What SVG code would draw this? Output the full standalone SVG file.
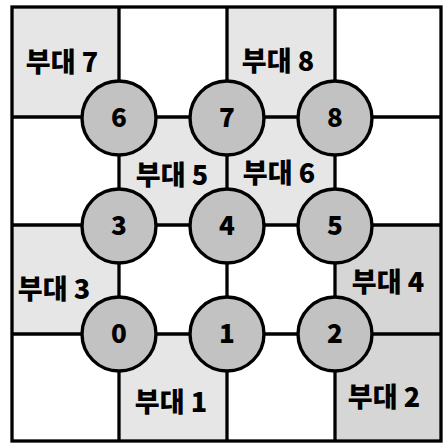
<svg xmlns="http://www.w3.org/2000/svg" width="443" height="443" viewBox="0 0 443 443">
<style>
.cell{fill:#e6e6e6;stroke:none}
.cell.dark{fill:#d6d6d6}
.ln{stroke:#000;stroke-width:3.3;fill:none}
.node circle{fill:#c2c2c2;stroke:#000;stroke-width:3.4}
.node text{font-family:"Noto Sans CJK KR","Noto Sans",sans-serif;font-weight:900;font-size:26px;text-anchor:middle;fill:#000}
.lbl{font-family:"Noto Sans CJK KR","Noto Sans",sans-serif;font-weight:900;font-size:27px;text-anchor:middle;fill:#000}
</style>
<rect x="0" y="0" width="443" height="443" fill="#fff"/>
<g id="cells">
<rect class="cell" x="12" y="7" width="107" height="110"/>
<rect class="cell" x="227" y="7" width="108" height="110"/>
<rect class="cell" x="119" y="117" width="108" height="108"/>
<rect class="cell" x="227" y="117" width="108" height="108"/>
<rect class="cell" x="12" y="225" width="107" height="109"/>
<rect class="cell dark" x="335" y="225" width="106" height="109"/>
<rect class="cell" x="119" y="334" width="108" height="107"/>
<rect class="cell dark" x="335" y="334" width="106" height="107"/>
</g>
<g id="connectors">
<rect class="ln" x="12" y="7" width="429" height="434" stroke-width="3.6"/>
<line class="ln" x1="12" y1="117" x2="441" y2="117"/>
<line class="ln" x1="12" y1="225" x2="441" y2="225"/>
<line class="ln" x1="12" y1="334" x2="441" y2="334"/>
<line class="ln" x1="119" y1="7" x2="119" y2="441"/>
<line class="ln" x1="227" y1="7" x2="227" y2="441"/>
<line class="ln" x1="335" y1="7" x2="335" y2="441"/>
</g>
<g id="labels">
<text class="lbl" x="62" y="72">부대 7</text>
<text class="lbl" x="278" y="71">부대 8</text>
<text class="lbl" x="172" y="185">부대 5</text>
<text class="lbl" x="279" y="183">부대 6</text>
<text class="lbl" x="54" y="299">부대 3</text>
<text class="lbl" x="388" y="292">부대 4</text>
<text class="lbl" x="171" y="412">부대 1</text>
<text class="lbl" x="384" y="407">부대 2</text>
</g>
<g id="node6" class="node"><circle cx="119" cy="118" r="37"/><text x="119" y="127">6</text></g>
<g id="node7" class="node"><circle cx="227" cy="118" r="37"/><text x="227" y="127">7</text></g>
<g id="node8" class="node"><circle cx="335" cy="118" r="37"/><text x="335" y="127">8</text></g>
<g id="node3" class="node"><circle cx="119" cy="226" r="37"/><text x="119" y="235">3</text></g>
<g id="node4" class="node"><circle cx="227" cy="226" r="37"/><text x="227" y="235">4</text></g>
<g id="node5" class="node"><circle cx="335" cy="226" r="37"/><text x="335" y="235">5</text></g>
<g id="node0" class="node"><circle cx="119" cy="334" r="37"/><text x="119" y="343">0</text></g>
<g id="node1" class="node"><circle cx="227" cy="334" r="37"/><text x="227" y="343">1</text></g>
<g id="node2" class="node"><circle cx="335" cy="334" r="37"/><text x="335" y="343">2</text></g>
</svg>
